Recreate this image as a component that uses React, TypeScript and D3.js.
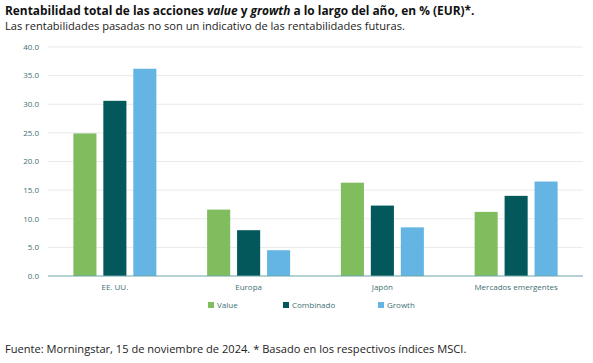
import React from 'react';
import * as d3 from 'd3';

const categories = ['EE. UU.', 'Europa', 'Japón', 'Mercados emergentes'];
const series = ['Value', 'Combinado', 'Growth'];
const valueData = [24.9, 11.6, 16.3, 11.2];
const combinadoData = [30.6, 8.0, 12.3, 14.0];
const growthData = [36.2, 4.5, 8.5, 16.5];
const yTicks = [0, 5, 10, 15, 20, 25, 30, 35, 40];

const colors = ['#80bd5f', '#03585c', '#64b4e4'];
const textColor = '#3f6f72';
const font = '"Open Sans", "DejaVu Sans", sans-serif';

export default function App() {
  const width = 593;
  const height = 363;
  const margin = { left: 48, right: 10, top: 47, bottom: 87 };
  const plotBottom = height - margin.bottom;

  const x = d3
    .scaleBand()
    .domain(categories)
    .range([margin.left, width - margin.right]);
  const inner = d3
    .scaleBand()
    .domain(series)
    .range([0, 83])
    .paddingInner(0.23);
  const y = d3.scaleLinear().domain([0, 40]).range([plotBottom, margin.top]);

  const allSeries = [valueData, combinadoData, growthData];
  const legendX = [208, 283, 378];

  return (
    <svg
      width={width}
      height={height}
      style={{ position: 'absolute', left: 0, top: 0, background: '#fff' }}
      fontFamily={font}
    >
      <text x={5} y={15} fontSize={11.9} fontWeight="bold" fill="#111">
        Rentabilidad total de las acciones <tspan fontStyle="italic">value</tspan> y{' '}
        <tspan fontStyle="italic">growth</tspan> a lo largo del año, en % (EUR)*.
      </text>
      <text x={5} y={30} fontSize={11.1} fill="#222">
        Las rentabilidades pasadas no son un indicativo de las rentabilidades futuras.
      </text>

      {yTicks.map(t => (
        <g key={t}>
          {t > 0 && (
            <line
              x1={margin.left}
              x2={width - margin.right}
              y1={y(t)}
              y2={y(t)}
              stroke="#e9e9e9"
              strokeWidth={1}
            />
          )}
          <text
            x={39}
            y={y(t)}
            dy="0.35em"
            textAnchor="end"
            fontSize={8}
            fill={textColor}
          >
            {t.toFixed(1)}
          </text>
        </g>
      ))}

      {categories.map((c, ci) => {
        const x0 = (x(c) as number) + x.bandwidth() / 2 - 41.5;
        return (
          <g key={c}>
            {series.map((s, si) => {
              const v = allSeries[si][ci];
              return (
                <rect
                  key={s}
                  x={x0 + (inner(s) as number)}
                  y={y(v)}
                  width={inner.bandwidth()}
                  height={plotBottom - y(v)}
                  fill={colors[si]}
                />
              );
            })}
            <text
              x={(x(c) as number) + x.bandwidth() / 2}
              y={plotBottom + 14}
              textAnchor="middle"
              fontSize={8}
              fill={textColor}
            >
              {c}
            </text>
          </g>
        );
      })}

      <line
        x1={margin.left}
        x2={width - margin.right}
        y1={plotBottom}
        y2={plotBottom}
        stroke="#6aa5a8"
        strokeWidth={1.2}
      />

      {series.map((s, si) => (
        <g key={s} transform={`translate(${legendX[si]},${305})`}>
          <rect x={0} y={-3} width={6} height={6} fill={colors[si]} />
          <text x={9} y={0} dy="0.35em" fontSize={8} fill={textColor}>
            {s}
          </text>
        </g>
      ))}

      <text x={5} y={353} fontSize={11.1} fill="#222">
        Fuente: Morningstar, 15 de noviembre de 2024. * Basado en los respectivos índices MSCI.
      </text>
    </svg>
  );
}
